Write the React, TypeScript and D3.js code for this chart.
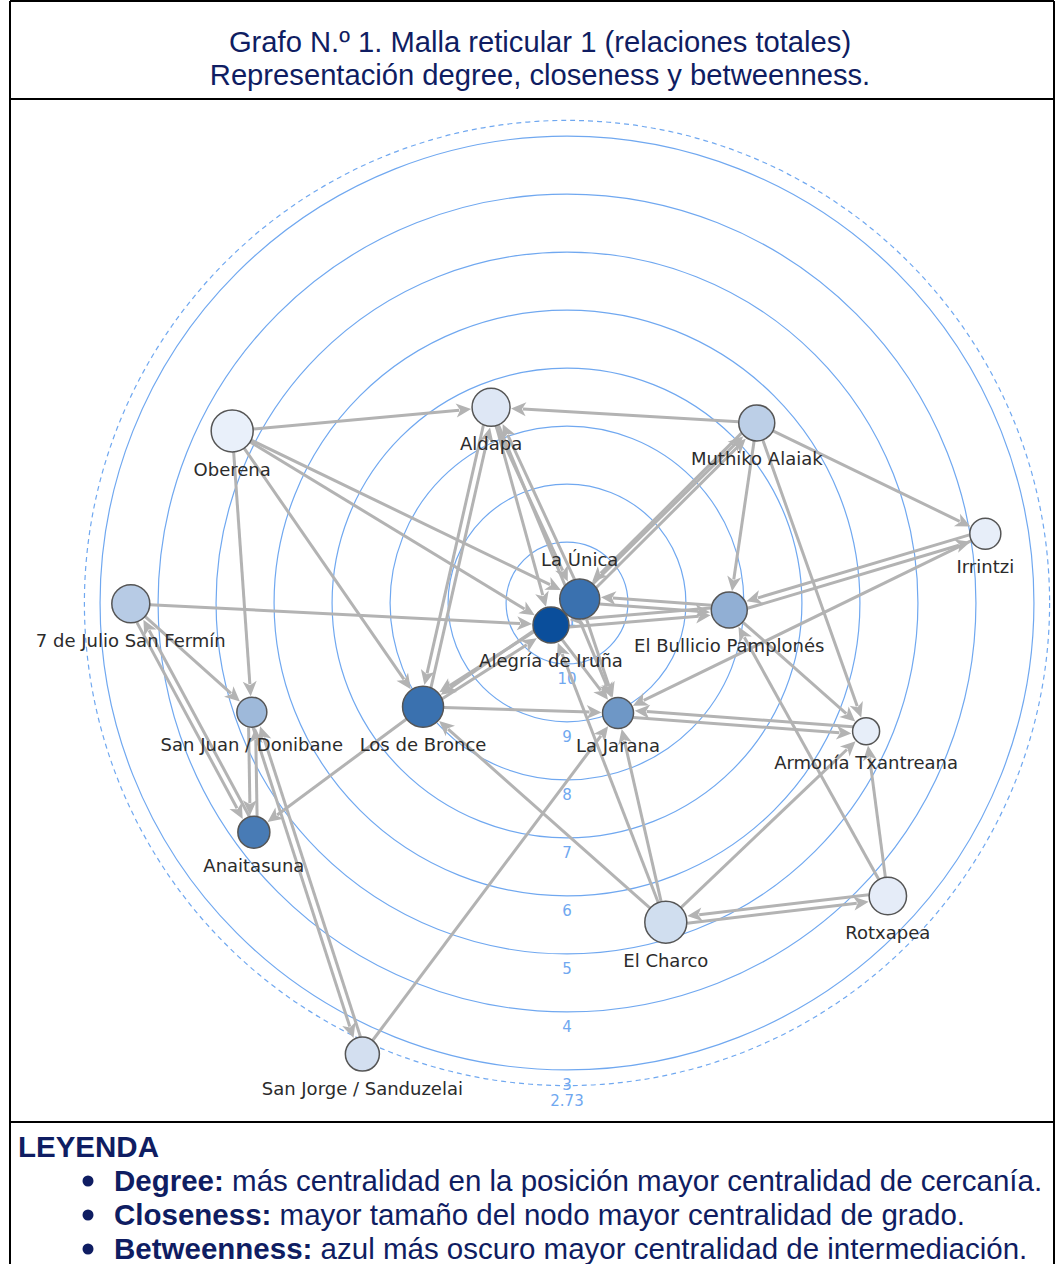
import React from "react";
import * as d3 from "d3";

// ---------- DATA ----------
const TITLE_LINES = [
  "Grafo N.º 1. Malla reticular 1 (relaciones totales)",
  "Representación degree, closeness y betweenness.",
];

const RING_VALUES = [11, 10, 9, 8, 7, 6, 5, 4, 3];
const OUTER_RING_VALUE = 2.73;
const AXIS_MAX = 11.05;

const NODE_NAMES = [
  "Oberena",
  "Aldapa",
  "Muthiko Alaiak",
  "Irrintzi",
  "La Única",
  "Alegría de Iruña",
  "El Bullicio Pamplonés",
  "7 de Julio San Fermín",
  "San Juan / Donibane",
  "Los de Bronce",
  "La Jarana",
  "Armonía Txantreana",
  "Anaitasuna",
  "Rotxapea",
  "El Charco",
  "San Jorge / Sanduzelai",
];
// radial position (degree axis value)
const NODE_DEGREE = [4.56, 7.43, 6.54, 3.74, 10.82, 10.58, 8.25, 3.53, 5.3, 7.99, 8.96, 5.44, 4.36, 3.56, 5.29, 2.51];
// angle (degrees, clockwise from top)
const NODE_ANGLE = [-62.8, -21.2, 46.5, 80.6, 72.9, -144, 92.5, -90.1, -109.1, -125.8, 155.1, 113.2, -126.2, 132.4, 162.8, -155.6];
// closeness -> node size
const NODE_CLOSENESS = [0.9, 0.7, 0.6, 0.35, 0.8, 0.6, 0.6, 0.7, 0.3, 0.85, 0.35, 0.15, 0.4, 0.67, 0.9, 0.5];
// betweenness -> colour
const NODE_BETWEENNESS = [0.02, 0.07, 0.22, 0.03, 0.79, 1.0, 0.41, 0.24, 0.35, 0.79, 0.56, 0.03, 0.73, 0.04, 0.13, 0.12];
const LABEL_ABOVE = ["La Única"];

const EDGES: [string, string][] = [
  ["Oberena", "Aldapa"],
  ["Oberena", "La Única"],
  ["Oberena", "Alegría de Iruña"],
  ["Oberena", "Los de Bronce"],
  ["Oberena", "San Juan / Donibane"],
  ["Muthiko Alaiak", "Aldapa"],
  ["Muthiko Alaiak", "Irrintzi"],
  ["Muthiko Alaiak", "El Bullicio Pamplonés"],
  ["Muthiko Alaiak", "Armonía Txantreana"],
  ["Muthiko Alaiak", "La Única"],
  ["La Única", "Muthiko Alaiak"],
  ["Alegría de Iruña", "Muthiko Alaiak"],
  ["Aldapa", "La Única"],
  ["La Única", "Aldapa"],
  ["Aldapa", "Alegría de Iruña"],
  ["Aldapa", "Los de Bronce"],
  ["Los de Bronce", "Aldapa"],
  ["Aldapa", "La Jarana"],
  ["La Única", "El Bullicio Pamplonés"],
  ["El Bullicio Pamplonés", "La Única"],
  ["Alegría de Iruña", "El Bullicio Pamplonés"],
  ["El Bullicio Pamplonés", "Alegría de Iruña"],
  ["La Única", "La Jarana"],
  ["Alegría de Iruña", "La Jarana"],
  ["Alegría de Iruña", "Los de Bronce"],
  ["Los de Bronce", "Alegría de Iruña"],
  ["La Única", "Los de Bronce"],
  ["7 de Julio San Fermín", "Alegría de Iruña"],
  ["7 de Julio San Fermín", "San Juan / Donibane"],
  ["7 de Julio San Fermín", "Anaitasuna"],
  ["Anaitasuna", "7 de Julio San Fermín"],
  ["San Juan / Donibane", "Anaitasuna"],
  ["Anaitasuna", "San Juan / Donibane"],
  ["San Juan / Donibane", "San Jorge / Sanduzelai"],
  ["San Jorge / Sanduzelai", "San Juan / Donibane"],
  ["Los de Bronce", "Anaitasuna"],
  ["Los de Bronce", "La Jarana"],
  ["San Jorge / Sanduzelai", "La Jarana"],
  ["Irrintzi", "El Bullicio Pamplonés"],
  ["El Bullicio Pamplonés", "Irrintzi"],
  ["Irrintzi", "La Jarana"],
  ["El Bullicio Pamplonés", "Armonía Txantreana"],
  ["Rotxapea", "El Bullicio Pamplonés"],
  ["La Jarana", "Armonía Txantreana"],
  ["Armonía Txantreana", "La Jarana"],
  ["Rotxapea", "Armonía Txantreana"],
  ["El Charco", "Armonía Txantreana"],
  ["El Charco", "Rotxapea"],
  ["Rotxapea", "El Charco"],
  ["El Charco", "La Jarana"],
  ["El Charco", "Alegría de Iruña"],
  ["El Charco", "Los de Bronce"],
];

const LEGEND_TITLE = "LEYENDA";
const LEGEND_TERMS = ["Degree:", "Closeness:", "Betweenness:"];
const LEGEND_TEXTS = [
  " más centralidad en la posición mayor centralidad de cercanía.",
  " mayor tamaño del nodo mayor centralidad de grado.",
  " azul más oscuro mayor centralidad de intermediación.",
];

// ---------- LAYOUT ----------
const W = 1056;
const H = 1264;
const CX = 567;
const CY = 603;
const NAVY = "#0f1d62";
const RING_COLOR = "#70a8f0";
const EDGE_COLOR = "#b3b3b3";

export default function App() {
  const rScale = d3.scaleLinear().domain([AXIS_MAX, OUTER_RING_VALUE]).range([0, 482.6]);
  const sizeScale = d3.scaleLinear().domain([0, 1]).range([12, 22]);
  const colorScale = d3
    .scaleLinear<string>()
    .domain([0, 1])
    .range(["#eef3fc", "#0a4e9b"])
    .interpolate(d3.interpolateRgb);

  const nodes = NODE_NAMES.map((name, i) => {
    const rr = rScale(NODE_DEGREE[i]);
    const a = (NODE_ANGLE[i] * Math.PI) / 180;
    return {
      name,
      x: CX + rr * Math.sin(a),
      y: CY - rr * Math.cos(a),
      r: sizeScale(NODE_CLOSENESS[i]),
      fill: colorScale(NODE_BETWEENNESS[i]),
      above: LABEL_ABOVE.includes(name),
    };
  });
  const byName = new Map(nodes.map((n) => [n.name, n]));
  const edgeKey = new Set(EDGES.map(([s, t]) => s + "|" + t));

  const ARROW_LEN = 15;
  const ARROW_HALF = 7;
  const edges = EDGES.map(([s, t], i) => {
    const a = byName.get(s)!;
    const b = byName.get(t)!;
    const dx = b.x - a.x;
    const dy = b.y - a.y;
    const len = Math.hypot(dx, dy);
    const ux = dx / len;
    const uy = dy / len;
    const nx = -uy;
    const ny = ux;
    const mutual = edgeKey.has(t + "|" + s);
    const off = mutual ? 3.5 : 0;
    const sx = a.x + ux * a.r + nx * off;
    const sy = a.y + uy * a.r + ny * off;
    const tx = b.x - ux * (b.r + 1) + nx * off;
    const ty = b.y - uy * (b.r + 1) + ny * off;
    const lx = tx - ux * (ARROW_LEN - 3);
    const ly = ty - uy * (ARROW_LEN - 3);
    const p = d3.path();
    p.moveTo(tx, ty);
    p.lineTo(tx - ux * ARROW_LEN + nx * ARROW_HALF, ty - uy * ARROW_LEN + ny * ARROW_HALF);
    p.lineTo(tx - ux * (ARROW_LEN - 4), ty - uy * (ARROW_LEN - 4));
    p.lineTo(tx - ux * ARROW_LEN - nx * ARROW_HALF, ty - uy * ARROW_LEN - ny * ARROW_HALF);
    p.closePath();
    return { key: i, sx, sy, lx, ly, arrow: p.toString() };
  });

  return (
    <svg
      width={W}
      height={H}
      style={{ position: "absolute", left: 0, top: 0, background: "#fff" }}
      xmlns="http://www.w3.org/2000/svg"
    >
      <rect x={0} y={0} width={W} height={H} fill="#fff" />
      {/* frame */}
      <g stroke="#000" strokeWidth={2} fill="none">
        <line x1={10} y1={1} x2={1054} y2={1} />
        <line x1={10} y1={1} x2={10} y2={H} />
        <line x1={1054} y1={1} x2={1054} y2={H} />
        <line x1={10} y1={99} x2={1054} y2={99} />
        <line x1={10} y1={1122} x2={1054} y2={1122} />
      </g>
      {/* title */}
      <g fontFamily="'Liberation Sans', Arial, sans-serif" fontSize={29.2} fill={NAVY} textAnchor="middle">
        <text x={540} y={52}>{TITLE_LINES[0]}</text>
        <text x={540} y={85}>{TITLE_LINES[1]}</text>
      </g>

      {/* rings */}
      <g fill="none" stroke={RING_COLOR} strokeWidth={1.2}>
        {RING_VALUES.map((v) => (
          <circle key={v} cx={CX} cy={CY} r={rScale(v)} />
        ))}
        <circle cx={CX} cy={CY} r={rScale(OUTER_RING_VALUE)} strokeDasharray="5 4" />
      </g>
      <g fontFamily="'DejaVu Sans', sans-serif" fontSize={15} fill={RING_COLOR} textAnchor="middle">
        {RING_VALUES.map((v) => (
          <text key={v} x={CX} y={CY + rScale(v) + 20}>
            {v}
          </text>
        ))}
        <text x={CX} y={CY + rScale(OUTER_RING_VALUE) + 20}>
          {OUTER_RING_VALUE}
        </text>
      </g>

      {/* edges */}
      <g>
        {edges.map((e) => (
          <g key={e.key}>
            <line x1={e.sx} y1={e.sy} x2={e.lx} y2={e.ly} stroke={EDGE_COLOR} strokeWidth={3} />
            <path d={e.arrow} fill={EDGE_COLOR} />
          </g>
        ))}
      </g>

      {/* nodes */}
      <g>
        {nodes.map((n) => (
          <circle key={n.name} cx={n.x} cy={n.y} r={n.r} fill={n.fill} stroke="#555" strokeWidth={1.5} />
        ))}
      </g>
      <g fontFamily="'DejaVu Sans', sans-serif" fontSize={18} fill="#2b2b2b" textAnchor="middle">
        {nodes.map((n) => (
          <text key={n.name} x={n.x} y={n.above ? n.y - n.r - 13 : n.y + n.r + 24}>
            {n.name}
          </text>
        ))}
      </g>

      {/* legend */}
      <g fontFamily="'Liberation Sans', Arial, sans-serif" fill={NAVY}>
        <text x={18} y={1157} fontSize={29.5} fontWeight="bold">
          {LEGEND_TITLE}
        </text>
        {LEGEND_TERMS.map((term, i) => (
          <g key={term}>
            <circle cx={88} cy={1181 + i * 34} r={5.5} />
            <text x={114} y={1191 + i * 34} fontSize={29.5}>
              <tspan fontWeight="bold">{term}</tspan>
              <tspan>{LEGEND_TEXTS[i]}</tspan>
            </text>
          </g>
        ))}
      </g>
    </svg>
  );
}
